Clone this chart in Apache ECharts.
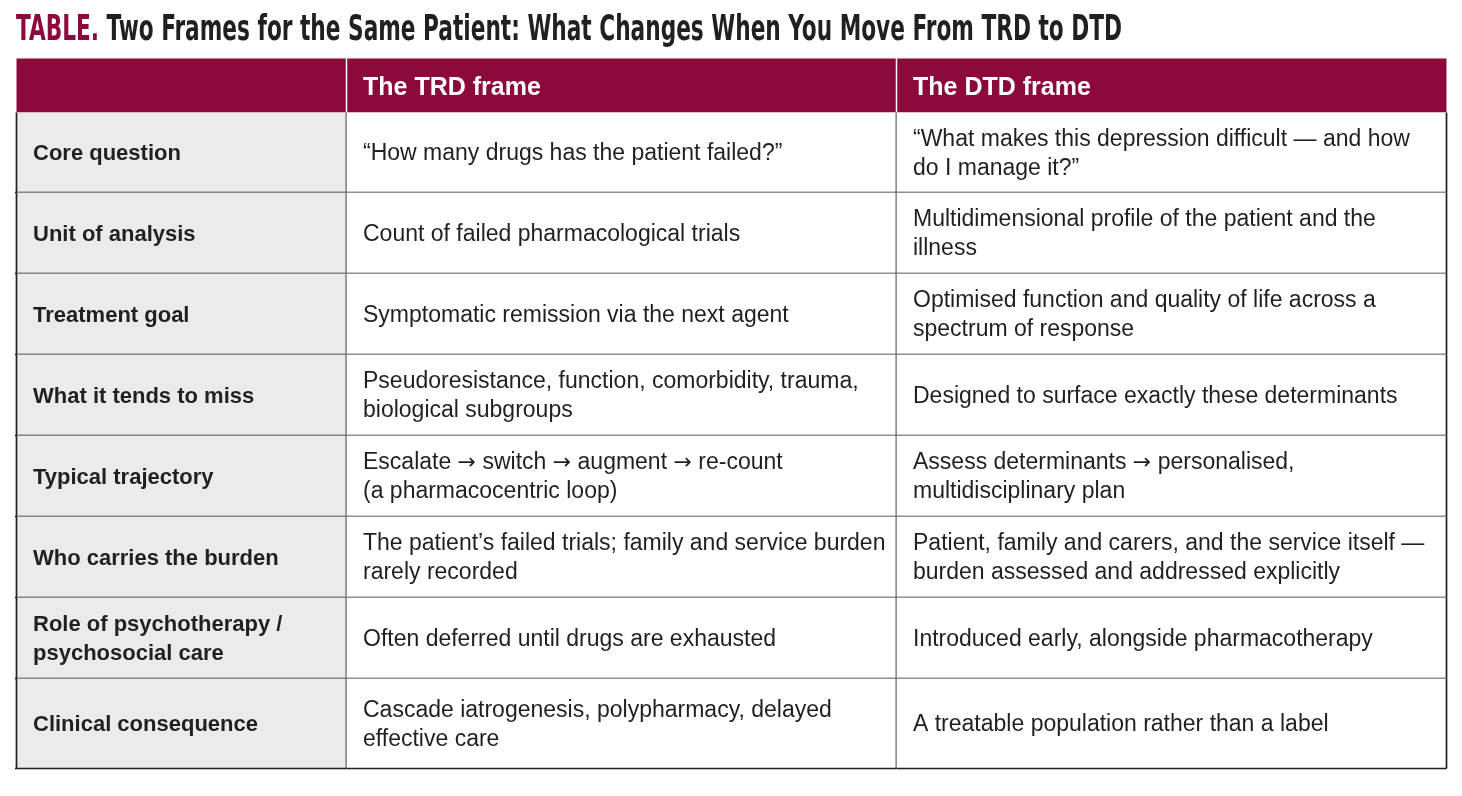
<!DOCTYPE html>
<html>
<head>
<meta charset="utf-8">
<title>TRD vs DTD table</title>
<script src="https://cdn.jsdelivr.net/npm/echarts@6/dist/echarts.min.js"></script>
<style>
  html, body { margin: 0; padding: 0; background: #fff; }
  #chart { width: 1462px; height: 796px; }
</style>
</head>
<body>
<div id="chart"></div>
<script>
// table content
const titleTag = 'TABLE.'
const titleMain = 'Two Frames for the Same Patient: What Changes When You Move From TRD to DTD'

const columnHeaders = ['', 'The TRD frame', 'The DTD frame']

const rowLabels = [
  'Core question',
  'Unit of analysis',
  'Treatment goal',
  'What it tends to miss',
  'Typical trajectory',
  'Who carries the burden',
  'Role of psychotherapy /\npsychosocial care',
  'Clinical consequence'
]

const trdFrame = [
  '\u201cHow many drugs has the patient failed?\u201d',
  'Count of failed pharmacological trials',
  'Symptomatic remission via the next agent',
  'Pseudoresistance, function, comorbidity, trauma,\nbiological subgroups',
  'Escalate \u2192 switch \u2192 augment \u2192 re-count\n(a pharmacocentric loop)',
  'The patient\u2019s failed trials; family and service burden\nrarely recorded',
  'Often deferred until drugs are exhausted',
  'Cascade iatrogenesis, polypharmacy, delayed\neffective care'
]

const dtdFrame = [
  '\u201cWhat makes this depression difficult \u2014 and how\ndo I manage it?\u201d',
  'Multidimensional profile of the patient and the\nillness',
  'Optimised function and quality of life across a\nspectrum of response',
  'Designed to surface exactly these determinants',
  'Assess determinants \u2192 personalised,\nmultidisciplinary plan',
  'Patient, family and carers, and the service itself \u2014\nburden assessed and addressed explicitly',
  'Introduced early, alongside pharmacotherapy',
  'A treatable population rather than a label'
]

// layout (px inside the table grid)
const colEdges = [0, 330, 880, 1430]
const rowEdges = [0, 54, 134, 215, 296, 377, 458, 539, 620, 710]

const MAROON = '#8c0a3b'
const INK = '#231f20'
const SHADE = '#ebebeb'
const BODY_FONT = '"Liberation Sans", Arial, Helvetica, sans-serif'
const TITLE_FONT = 'bold 35px "Liberation Sans Narrow", "DejaVu Sans Condensed", "Liberation Sans", sans-serif'

// cells: [col, row, text]  row 0 = header
const cells = []
columnHeaders.forEach((t, c) => cells.push([c, 0, t]))
rowLabels.forEach((t, r) => {
  cells.push([0, r + 1, t])
  cells.push([1, r + 1, trdFrame[r]])
  cells.push([2, r + 1, dtdFrame[r]])
})

// fit the condensed title to its printed width
const ctx = document.createElement('canvas').getContext('2d')
ctx.font = TITLE_FONT
const tagWidth = ctx.measureText(titleTag + ' ').width
const fullWidth = ctx.measureText(titleTag + ' ' + titleMain).width
const titleScale = 1106 / fullWidth

const chart = echarts.init(document.getElementById('chart'), null, { renderer: 'canvas' })

function renderCell(params, api) {
  const c = api.value(0)
  const r = api.value(1)
  const text = cells[params.dataIndex][2]
  const p0 = api.coord([colEdges[c], rowEdges[r]])
  const p1 = api.coord([colEdges[c + 1], rowEdges[r + 1]])
  const w = p1[0] - p0[0]
  const h = p1[1] - p0[1]
  const children = []
  const isHead = r === 0

  children.push({
    type: 'rect',
    shape: { x: p0[0], y: p0[1], width: w, height: h },
    style: { fill: isHead ? MAROON : (c === 0 ? SHADE : '#fff') }
  })

  if (isHead) {
    if (c > 0) {
      children.push({
        type: 'line',
        shape: { x1: p0[0], y1: p0[1], x2: p0[0], y2: p1[1] },
        style: { stroke: '#fff', lineWidth: 1.5 }
      })
    }
  } else {
    const lineStyle = { stroke: INK, lineWidth: 1.7 }
    children.push({
      type: 'line',
      shape: { x1: p0[0] - (c === 0 ? 1.5 : 0), y1: p1[1], x2: p1[0], y2: p1[1] },
      style: lineStyle
    })
    children.push({
      type: 'line',
      shape: { x1: p1[0], y1: p0[1], x2: p1[0], y2: p1[1] },
      style: lineStyle
    })
    if (c === 0) {
      children.push({
        type: 'line',
        shape: { x1: p0[0], y1: p0[1], x2: p0[0], y2: p1[1] },
        style: lineStyle
      })
    }
  }

  if (text) {
    const bold = isHead || c === 0
    const size = isHead ? 25 : (bold ? 22 : 23)
    children.push({
      type: 'text',
      style: {
        text: text.replace(/\u2192/g, '{arr|\u2192}'),
        x: p0[0] + 16.5,
        y: (p0[1] + p1[1]) / 2 + (isHead ? 2.5 : 1.5),
        fill: isHead ? '#fff' : INK,
        font: (bold ? 'bold ' : '') + size + 'px ' + BODY_FONT,
        lineHeight: 29,
        rich: {
          arr: { fontFamily: '"DejaVu Sans", sans-serif', fontSize: 22, lineHeight: 29, fill: INK }
        },
        align: 'left',
        verticalAlign: 'middle',
        textAlign: 'left',
        textVerticalAlign: 'middle'
      }
    })
  }
  return { type: 'group', children: children }
}

chart.setOption({
  backgroundColor: '#fff',
  animation: false,
  grid: { left: 16.5, top: 58.5, width: 1430, height: 710 },
  xAxis: { type: 'value', min: 0, max: 1430, show: false },
  yAxis: { type: 'value', min: 0, max: 710, inverse: true, show: false },
  graphic: [
    {
      type: 'group',
      x: 16,
      y: 31,
      scaleX: titleScale,
      children: [
        {
          type: 'text',
          x: 0,
          y: 0,
          style: { text: titleTag, font: TITLE_FONT, fill: MAROON, verticalAlign: 'middle', textVerticalAlign: 'middle' }
        },
        {
          type: 'text',
          x: tagWidth,
          y: 0,
          style: { text: titleMain, font: TITLE_FONT, fill: INK, verticalAlign: 'middle', textVerticalAlign: 'middle' }
        }
      ]
    }
  ],
  series: [
    {
      type: 'custom',
      coordinateSystem: 'cartesian2d',
      encode: { x: 0, y: 1 },
      data: cells.map(d => [d[0], d[1]]),
      renderItem: renderCell,
      silent: true,
      clip: false
    }
  ]
})

window.addEventListener('resize', () => chart.resize())
</script>
</body>
</html>
